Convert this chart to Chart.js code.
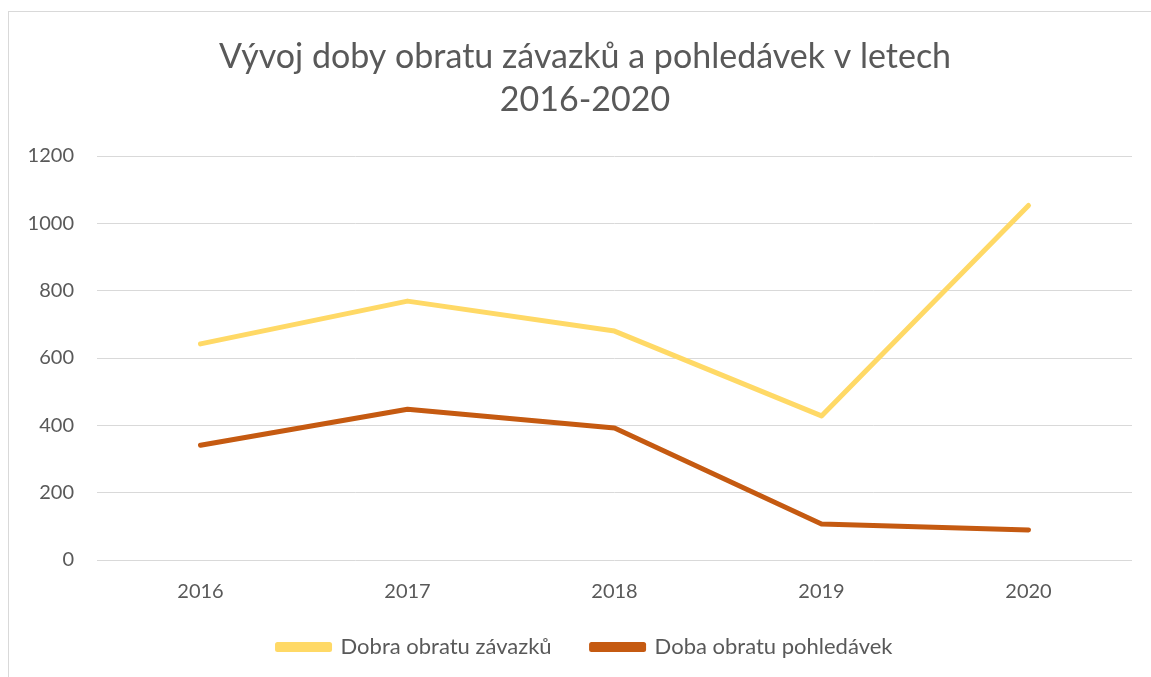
<!DOCTYPE html>
<html>
<head>
<meta charset="utf-8">
<script src="https://cdn.jsdelivr.net/npm/chart.js@4"></script>
<style>
  html, body { margin: 0; padding: 0; background: #fff; overflow: hidden; }
  #frame { position: absolute; left: 8px; top: 11px; width: 1200px; height: 700px; border: 1px solid #d9d9d9; box-sizing: border-box; }
  #c { position: absolute; left: 0; top: 0; }
</style>
</head>
<body>
<div id="frame"></div>
<canvas id="c" width="1151" height="677"></canvas>
<script>
const titleLines = ['Vývoj doby obratu závazků a pohledávek v letech', '2016-2020'];
const categories = ['2016', '2017', '2018', '2019', '2020'];
const seriesNames = ['Dobra obratu závazků', 'Doba obratu pohledávek'];
const zavazky = [642, 769, 680, 428, 1053];
const pohledavky = [341, 448, 392, 107, 89];
const yTicks = [0, 200, 400, 600, 800, 1000, 1200];

const FONT = 'Lato, "Open Sans", sans-serif';
const TXT = '#595959';

new Chart(document.getElementById('c'), {
  type: 'line',
  data: {
    labels: categories,
    datasets: [
      { label: seriesNames[0], data: zavazky, borderColor: '#FFD966', backgroundColor: '#FFD966',
        borderWidth: 5, pointRadius: 0, tension: 0, borderCapStyle: 'round', borderJoinStyle: 'round' },
      { label: seriesNames[1], data: pohledavky, borderColor: '#C55A11', backgroundColor: '#C55A11',
        borderWidth: 5, pointRadius: 0, tension: 0, borderCapStyle: 'round', borderJoinStyle: 'round' }
    ]
  },
  options: {
    responsive: false,
    animation: false,
    devicePixelRatio: 1,
    layout: { padding: { left: 38, right: 19, top: 0, bottom: 9 } },
    plugins: {
      tooltip: { enabled: false },
      title: {
        display: true, text: titleLines, color: TXT,
        font: { family: FONT, size: 34, weight: 'normal', lineHeight: 1.265 },
        padding: { top: 36, bottom: 34 }
      },
      legend: {
        position: 'bottom',
        labels: {
          color: TXT, font: { family: FONT, size: 22 },
          boxWidth: 52, boxHeight: 5, padding: 40
        }
      }
    },
    scales: {
      x: {
        offset: true,
        grid: { display: false, drawTicks: false },
        border: { display: false },
        afterFit: (s) => { s.height = s.height - 28; s._computeLabelArea = () => undefined; },
        ticks: { color: TXT, font: { family: FONT, size: 20 }, padding: 20, maxRotation: 0 }
      },
      y: {
        min: 0, max: 1200,
        afterBuildTicks: (s) => { s.ticks = yTicks.map(v => ({ value: v })); },
        afterFit: (s) => { s.width = 59; s._computeLabelArea = () => undefined; },
        grid: { color: '#d9d9d9', lineWidth: 1, drawTicks: false },
        border: { display: false },
        ticks: { color: TXT, font: { family: FONT, size: 20 }, padding: 23, callback: (v) => String(v) }
      }
    }
  }
});
</script>
</body>
</html>
